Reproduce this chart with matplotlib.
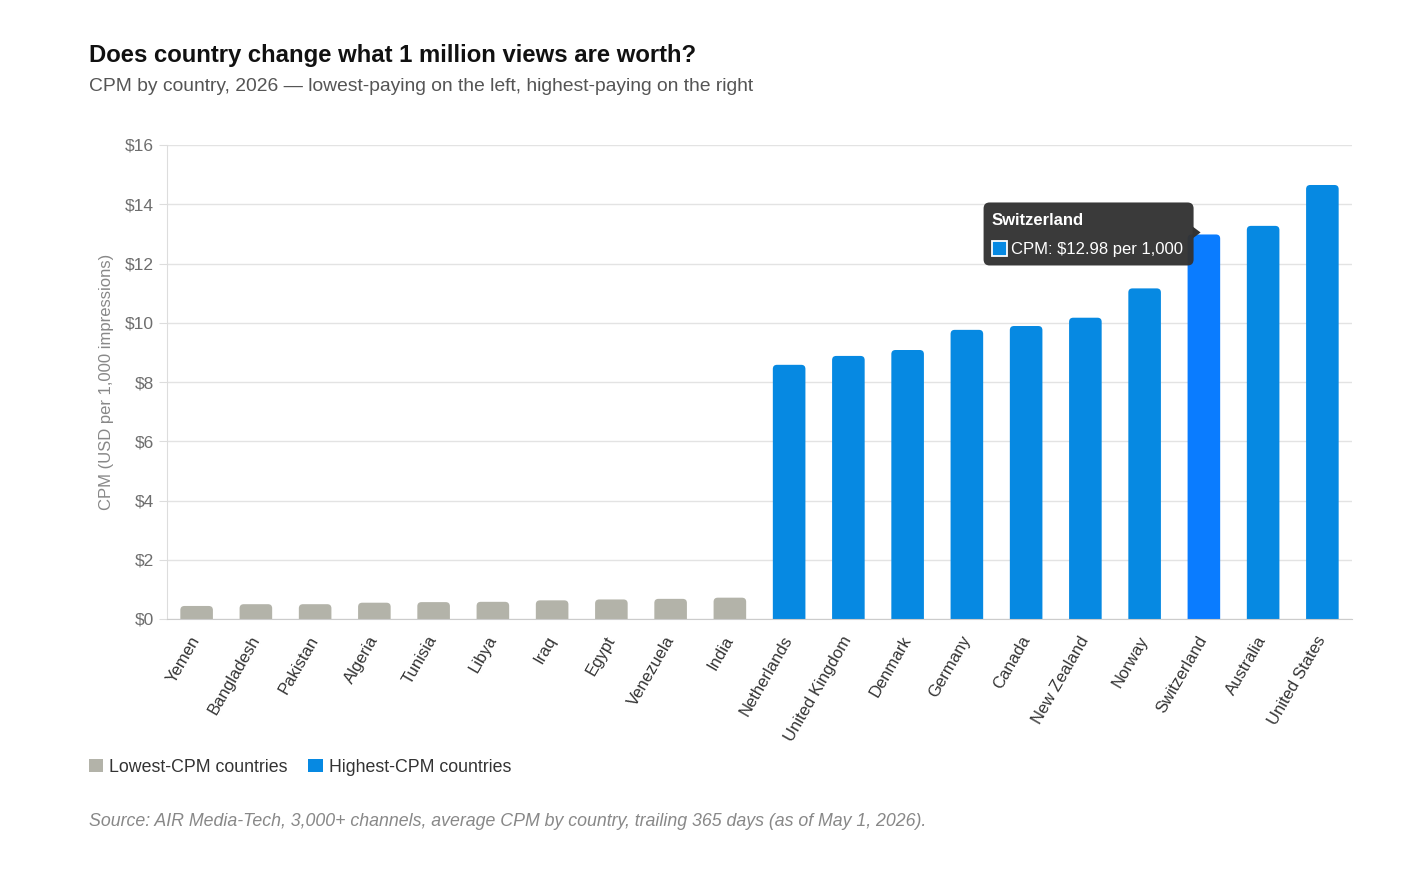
import matplotlib
matplotlib.use('Agg')
import matplotlib.pyplot as plt
from matplotlib.patches import FancyBboxPatch, Rectangle, Polygon, Patch

plt.rcParams['font.family'] = ['Liberation Sans', 'DejaVu Sans']

# data
countries = ['Yemen', 'Bangladesh', 'Pakistan', 'Algeria', 'Tunisia', 'Libya', 'Iraq',
             'Egypt', 'Venezuela', 'India', 'Netherlands', 'United Kingdom', 'Denmark',
             'Germany', 'Canada', 'New Zealand', 'Norway', 'Switzerland', 'Australia',
             'United States']
cpm = [0.44, 0.50, 0.50, 0.55, 0.57, 0.58, 0.63, 0.66, 0.68, 0.72,
       8.58, 8.88, 9.08, 9.76, 9.89, 10.17, 11.16, 12.98, 13.27, 14.65]
group = ['low'] * 10 + ['high'] * 10
y_ticks = [0, 2, 4, 6, 8, 10, 12, 14, 16]
highlight = 'Switzerland'

grey = '#b3b3a9'
blue = '#0689e2'
blue_hi = '#0a7cff'

W, H = 1413, 884
fig = plt.figure(figsize=(W / 100, H / 100), dpi=100)
fig.patch.set_facecolor('white')
ax = fig.add_axes([167 / W, 1 - 619 / H, (1352 - 167) / W, (619 - 145) / H])

x = list(range(len(countries)))
colors = []
for c, g in zip(countries, group):
    if c == highlight:
        colors.append(blue_hi)
    elif g == 'high':
        colors.append(blue)
    else:
        colors.append(grey)

bar_w = 0.55
bars = ax.bar(x, cpm, width=bar_w, color=colors, zorder=2)
# swap the plain rectangles for ones with rounded tops (bottom is clipped by the axes)
for b in bars:
    b.set_visible(False)
    fb = FancyBboxPatch((b.get_x(), -0.5), b.get_width(), b.get_height() + 0.5,
                        boxstyle='round,pad=0,rounding_size=0.07', mutation_aspect=2.0,
                        facecolor=b.get_facecolor(), edgecolor='none', zorder=2)
    ax.add_patch(fb)

ax.set_xlim(-0.5, len(countries) - 0.5)
ax.set_ylim(0, 16)
ax.set_yticks(y_ticks)
ax.set_yticklabels(['$' + str(v) for v in y_ticks])
ax.yaxis.grid(True, color='#e3e3e3', linewidth=1, zorder=0)
ax.set_axisbelow(True)
for s in ['top', 'right']:
    ax.spines[s].set_visible(False)
ax.spines['left'].set_color('#dddddd')
ax.spines['bottom'].set_color('#cccccc')
ax.tick_params(axis='y', length=5.5, color='#dddddd', pad=4, labelsize=12.5, labelcolor='#6e6e6e')
ax.tick_params(axis='x', length=0, pad=13)
ax.set_xticks(x)
ax.set_xticklabels(countries, rotation=60, ha='right', va='center', rotation_mode='anchor',
                   fontsize=12, color='#333333')
ax.set_ylabel('CPM (USD per 1,000 impressions)', fontsize=12, color='#888888', labelpad=8)

# tooltip on Switzerland
fig.canvas.draw()
i = countries.index(highlight)
px, py = ax.transData.transform((i - bar_w / 2, cpm[i]))
tip_box = FancyBboxPatch((px - 204, py - 31), 210, 63,
                         boxstyle='round,pad=0,rounding_size=6', transform=None,
                         facecolor='#333333', edgecolor='none', alpha=0.97, zorder=5)
fig.patches.append(tip_box)
notch = Polygon([(px + 5, py + 8), (px + 13, py + 2), (px + 5, py - 4)], closed=True,
                transform=None, facecolor='#333333', edgecolor='none', zorder=5)
fig.patches.append(notch)
sq = Rectangle((px - 196, py - 22), 15, 15, transform=None, facecolor=blue,
               edgecolor='white', linewidth=1.3, zorder=6)
fig.patches.append(sq)
fig.text((px - 196) / W, (py + 14) / H, highlight, color='white', fontsize=12,
         fontweight='bold', ha='left', va='center', zorder=7)
fig.text((px - 177) / W, (py - 15) / H, 'CPM: $%.2f per 1,000' % cpm[i], color='white',
         fontsize=12, ha='left', va='center', zorder=7)

# titles
fig.text(89 / W, 1 - 62 / H, 'Does country change what 1 million views are worth?',
         fontsize=17.2, fontweight='bold', color='#111111', ha='left', va='baseline')
fig.text(89 / W, 1 - 91 / H,
         'CPM by country, 2026 \u2014 lowest-paying on the left, highest-paying on the right',
         fontsize=13.9, color='#555555', ha='left', va='baseline')

# legend
handles = [Patch(facecolor=grey, edgecolor='none', label='Lowest-CPM countries'),
           Patch(facecolor=blue, edgecolor='none', label='Highest-CPM countries')]
fig.legend(handles=handles, loc='center left', bbox_to_anchor=(73 / W, 1 - 767 / H),
           ncol=2, frameon=False, fontsize=12.8, handlelength=0.8, handleheight=0.8,
           handletextpad=0.35, columnspacing=1.15, labelcolor='#333333')

fig.text(89 / W, 1 - 826 / H,
         'Source: AIR Media-Tech, 3,000+ channels, average CPM by country, trailing 365 days (as of May 1, 2026).',
         fontsize=12.75, style='italic', color='#888888', ha='left', va='baseline')

fig.savefig('out.png', dpi=100)
